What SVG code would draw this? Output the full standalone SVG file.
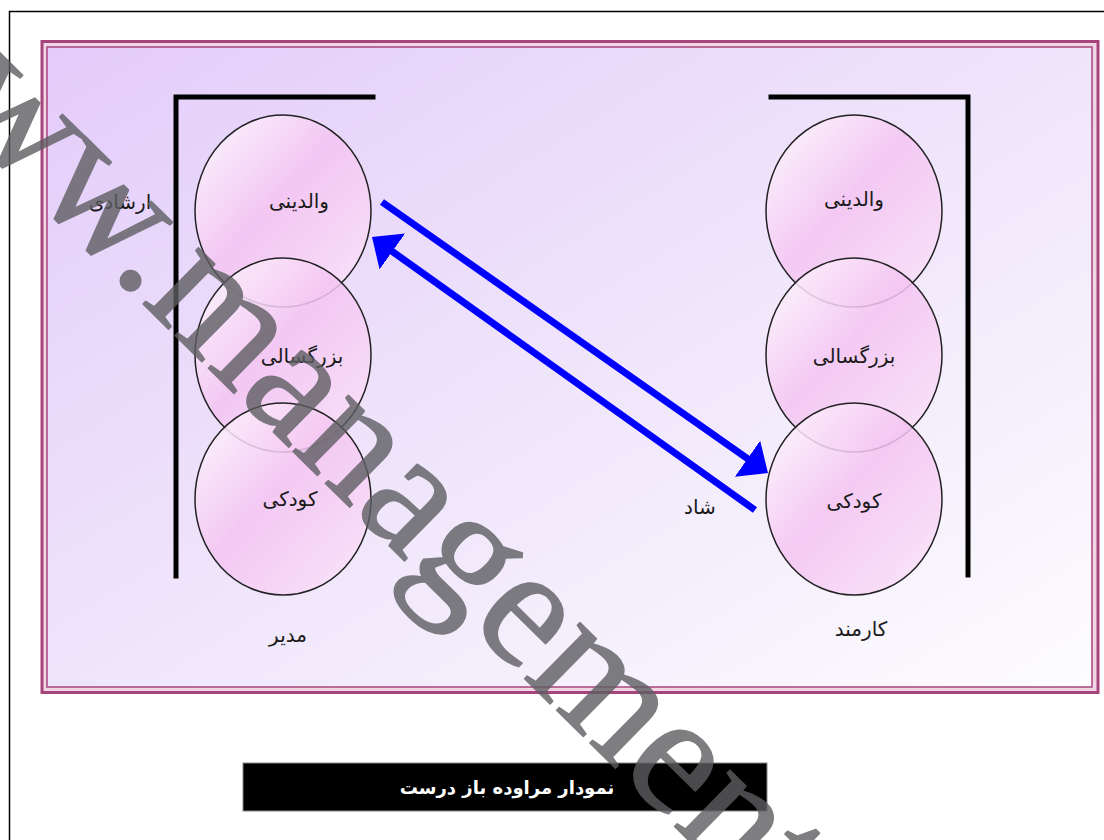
<svg xmlns="http://www.w3.org/2000/svg" width="1104" height="840" viewBox="0 0 1104 840">
<style>
.lbl{font-family:"DejaVu Sans","Noto Sans",sans-serif;font-size:20px;fill:#1a1a1a;text-anchor:middle}
.ball{fill:url(#ball);fill-opacity:0.86;stroke:#222;stroke-width:1.5}
.brk{fill:none;stroke:#000;stroke-width:5;stroke-linecap:square}
.arr{fill:none;stroke:#0000ff;stroke-width:7;marker-end:url(#ah)}
.ttl{font-family:"DejaVu Sans","Noto Sans",sans-serif;font-size:18px;font-weight:bold;fill:#fff;text-anchor:middle}
.wm{font-family:"Liberation Serif","Times New Roman",serif;font-size:172px;fill:#5e5e62;stroke:#5e5e62;stroke-width:1.5;stroke-linejoin:round}
</style>
<defs>
<linearGradient id="bg" x1="0" y1="0" x2="1" y2="1">
<stop offset="0" stop-color="#e4ccfa"/>
<stop offset="0.5" stop-color="#efe5fb"/>
<stop offset="1" stop-color="#fdfcfe"/>
</linearGradient>
<linearGradient id="ball" x1="0" y1="0" x2="1" y2="1">
<stop offset="0" stop-color="#ffffff"/>
<stop offset="0.45" stop-color="#f4c4f2"/>
<stop offset="0.8" stop-color="#f8d8f6"/>
<stop offset="1" stop-color="#fdf2fd"/>
</linearGradient>
<marker id="ah" markerUnits="userSpaceOnUse" markerWidth="26" markerHeight="44" viewBox="0 0 26 44" refX="10" refY="22" orient="auto">
<path d="M0,0 L25,22 L0,44 Z" fill="#0000ff"/>
</marker>
</defs>
<rect width="1104" height="840" fill="#fff"/>
<path d="M9.5,840 V11.5 H1104" fill="none" stroke="#000" stroke-width="1.5"/>
<rect x="42" y="41.5" width="1056" height="651" fill="#f1d6e6" stroke="#a8447c" stroke-width="3"/>
<rect x="47" y="47" width="1045" height="640" fill="url(#bg)" stroke="#a8447c" stroke-width="1.5"/>

<g id="bracket-left"><path class="brk" d="M373,97 H176 V576"/></g>
<g id="bracket-right"><path class="brk" d="M771,97 H968 V575"/></g>

<g id="left-parent"><ellipse class="ball" cx="283" cy="211" rx="88" ry="96"/><text class="lbl" x="299" y="208">والدینی</text></g>
<g id="left-adult"><ellipse class="ball" cx="283" cy="355" rx="88" ry="97"/><text class="lbl" x="302" y="363">بزرگسالی</text></g>
<g id="left-child"><ellipse class="ball" cx="283" cy="499" rx="88" ry="96"/><text class="lbl" x="290" y="506">کودکی</text></g>

<g id="right-parent"><ellipse class="ball" cx="854" cy="211" rx="88" ry="96"/><text class="lbl" x="854" y="206">والدینی</text></g>
<g id="right-adult"><ellipse class="ball" cx="854" cy="355" rx="88" ry="97"/><text class="lbl" x="854" y="363">بزرگسالی</text></g>
<g id="right-child"><ellipse class="ball" cx="854" cy="499" rx="88" ry="96"/><text class="lbl" x="854" y="508">کودکی</text></g>

<g id="labels">
<text class="lbl" x="120" y="209">ارشادی</text>
<text class="lbl" x="700" y="514">شاد</text>
<text class="lbl" x="288" y="642">مدیر</text>
<text class="lbl" x="861" y="636">کارمند</text>
</g>

<g id="connectors">
<path class="arr" d="M382,202 L755.7,464.4"/>
<path class="arr" d="M755,510 L384.2,245.7"/>
</g>

<g id="title">
<rect x="243" y="763" width="524" height="48" fill="#000" stroke="#888" stroke-width="1"/>
<text class="ttl" x="507" y="794">نمودار مراوده باز درست</text>
</g>

<g id="watermark" opacity="0.8">
<text class="wm" transform="translate(-148,18) rotate(44.5)">www.management</text>
</g>
</svg>
